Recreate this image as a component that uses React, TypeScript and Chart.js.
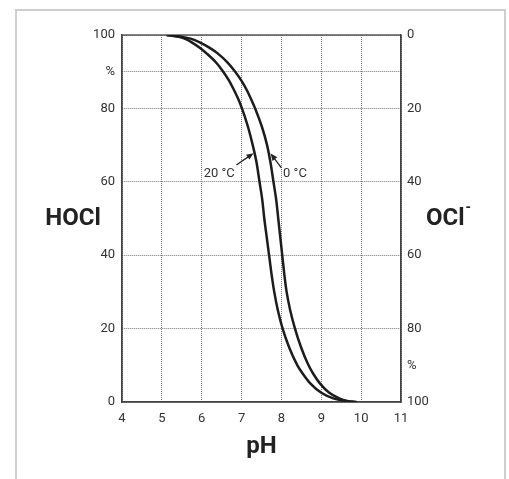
import React, { useEffect, useRef } from 'react';
import { Chart, registerables } from 'chart.js';

Chart.register(...registerables);

// pH vs HOCl share (%) at 20 °C
const ph20 = [5.12, 5.42, 5.57, 5.75, 5.95, 6.12, 6.36, 6.54, 6.69, 6.81, 6.92, 7.01, 7.16, 7.28, 7.38, 7.45, 7.52, 7.57, 7.63, 7.69, 7.75, 7.82, 7.91, 8.03, 8.19, 8.4, 8.55, 8.73, 9.0, 9.3, 9.6, 9.88];
const hocl20 = [100, 99.5, 99, 98, 96.5, 95, 92.5, 90, 87.5, 85, 82.5, 80, 75, 70, 65, 60, 55, 50, 45, 40, 35, 30, 25, 20, 15, 10, 7.5, 5, 2.5, 1, 0.3, 0];
// pH vs HOCl share (%) at 0 °C
const ph0 = [5.12, 5.5, 5.72, 5.95, 6.2, 6.4, 6.65, 6.84, 7.0, 7.13, 7.24, 7.34, 7.51, 7.64, 7.73, 7.8, 7.87, 7.92, 7.97, 8.02, 8.07, 8.13, 8.22, 8.34, 8.49, 8.68, 8.81, 8.97, 9.2, 9.45, 9.65, 9.88];
const hocl0 = [100, 99.5, 99, 98, 96.5, 95, 92.5, 90, 87.5, 85, 82.5, 80, 75, 70, 65, 60, 55, 50, 45, 40, 35, 30, 25, 20, 15, 10, 7.5, 5, 2.5, 1, 0.3, 0];

const xMin = 4;
const xMax = 11;
const leftTickValues = [0, 20, 40, 60, 80, 90, 100];
const leftTickText = ['0', '20', '40', '60', '80', '%', '100'];
const rightTickValues = [0, 20, 40, 60, 80, 90, 100];
const rightTickText = ['0', '20', '40', '60', '80', '%', '100'];

// annotations (data units)
const annText = ['20 °C', '0 °C'];
const annAlign = ['right', 'left'];
const annLabelX = [6.83, 8.04];
const annLabelY = [62.3, 62.3];
const annTailX = [6.87, 8.0];
const annTailY = [64.6, 63.8];
const annHeadX = [7.3, 7.73];
const annHeadY = [67.8, 67.7];

const FONT = 'Roboto, "DejaVu Sans", sans-serif';

const decor = {
  id: 'decor',
  beforeDatasetsDraw(chart: any) {
    const { ctx, chartArea: a } = chart;
    ctx.save();
    ctx.strokeStyle = '#444';
    ctx.lineWidth = 1.3;
    ctx.setLineDash([]);
    ctx.strokeRect(a.left, a.top, a.right - a.left, a.bottom - a.top);
    ctx.restore();
  },
  afterDraw(chart: any) {
    const { ctx, chartArea: a, scales } = chart;
    const xs = scales.x;
    const ys = scales.y;
    ctx.save();
    // titles
    ctx.fillStyle = '#222';
    ctx.font = `bold 24px ${FONT}`;
    ctx.textBaseline = 'middle';
    ctx.textAlign = 'center';
    ctx.fillText('pH', (a.left + a.right) / 2, a.bottom + 45);
    const midY = (a.top + a.bottom) / 2;
    ctx.fillText('HOCl', a.left - 49, midY);
    ctx.textAlign = 'left';
    ctx.fillText('OCl', a.right + 25, midY);
    const w = ctx.measureText('OCl').width;
    ctx.font = `bold 14px ${FONT}`;
    ctx.fillText('-', a.right + 26 + w, midY - 10);

    // annotations
    ctx.font = `13px ${FONT}`;
    ctx.fillStyle = '#333';
    ctx.strokeStyle = '#222';
    ctx.lineWidth = 1.3;
    for (let i = 0; i < annText.length; i++) {
      ctx.textAlign = annAlign[i] as CanvasTextAlign;
      ctx.textBaseline = 'middle';
      ctx.fillText(annText[i], xs.getPixelForValue(annLabelX[i]), ys.getPixelForValue(annLabelY[i]));
      const x1 = xs.getPixelForValue(annTailX[i]);
      const y1 = ys.getPixelForValue(annTailY[i]);
      const x2 = xs.getPixelForValue(annHeadX[i]);
      const y2 = ys.getPixelForValue(annHeadY[i]);
      const ang = Math.atan2(y2 - y1, x2 - x1);
      const hl = 7;
      const hw = 3;
      ctx.beginPath();
      ctx.moveTo(x1, y1);
      ctx.lineTo(x2 - Math.cos(ang) * hl * 0.8, y2 - Math.sin(ang) * hl * 0.8);
      ctx.stroke();
      ctx.beginPath();
      ctx.moveTo(x2, y2);
      ctx.lineTo(x2 - Math.cos(ang) * hl - Math.sin(ang) * hw, y2 - Math.sin(ang) * hl + Math.cos(ang) * hw);
      ctx.lineTo(x2 - Math.cos(ang) * hl + Math.sin(ang) * hw, y2 - Math.sin(ang) * hl - Math.cos(ang) * hw);
      ctx.closePath();
      ctx.fillStyle = '#222';
      ctx.fill();
      ctx.fillStyle = '#333';
    }
    ctx.restore();
  },
};

export default function App() {
  const ref = useRef<HTMLCanvasElement>(null);
  useEffect(() => {
    if (!ref.current) return;
    const chart = new Chart(ref.current, {
      type: 'line',
      data: {
        datasets: [
          {
            label: '20 °C',
            data: ph20.map((x, i) => ({ x, y: hocl20[i] })),
            borderColor: '#1c1c1c',
            borderWidth: 2.5,
            pointRadius: 0,
            cubicInterpolationMode: 'monotone',
            fill: false,
            yAxisID: 'y',
          },
          {
            label: '0 °C',
            data: ph0.map((x, i) => ({ x, y: hocl0[i] })),
            borderColor: '#1c1c1c',
            borderWidth: 2.5,
            pointRadius: 0,
            cubicInterpolationMode: 'monotone',
            fill: false,
            yAxisID: 'y',
          },
        ],
      },
      options: {
        animation: false,
        responsive: true,
        maintainAspectRatio: false,
        layout: { padding: { top: 35, left: 0, right: 0, bottom: 0 } },
        plugins: { legend: { display: false }, tooltip: { enabled: false } },
        scales: {
          x: {
            type: 'linear',
            min: xMin,
            max: xMax,
            ticks: {
              stepSize: 1,
              padding: 9,
              color: '#333',
              font: { family: FONT, size: 13 },
            },
            grid: { color: '#777', lineWidth: 1, drawTicks: false },
            border: { display: true, color: '#444', width: 1.3, dash: [1, 1] },
            afterFit: (s: any) => { s.height = 77; },
          },
          y: {
            type: 'linear',
            position: 'left',
            min: 0,
            max: 100,
            afterBuildTicks: (s: any) => { s.ticks = leftTickValues.map((v) => ({ value: v })); },
            ticks: {
              padding: 7,
              color: '#333',
              font: { family: FONT, size: 13 },
              callback: (v: any) => {
                const i = leftTickValues.indexOf(Number(v));
                return i >= 0 ? leftTickText[i] : '';
              },
            },
            grid: { color: '#777', lineWidth: 1, drawTicks: false },
            border: { display: true, color: '#444', width: 1.3, dash: [1, 1] },
            afterFit: (s: any) => { s.width = 122; },
          },
          y2: {
            type: 'linear',
            position: 'right',
            reverse: true,
            min: 0,
            max: 100,
            afterBuildTicks: (s: any) => { s.ticks = rightTickValues.map((v) => ({ value: v })); },
            ticks: {
              padding: 6,
              color: '#333',
              font: { family: FONT, size: 13 },
              callback: (v: any) => {
                const i = rightTickValues.indexOf(Number(v));
                return i >= 0 ? rightTickText[i] : '';
              },
            },
            grid: { drawOnChartArea: false, drawTicks: false },
            border: { display: true, color: '#444', width: 1.3 },
            afterFit: (s: any) => { s.width = 108; },
          },
        },
      } as any,
      plugins: [decor],
    });
    return () => chart.destroy();
  }, []);

  return (
    <div style={{ position: 'absolute', left: 0, top: 0, width: 509, height: 479, overflow: 'hidden', background: '#fff' }}>
      <div
        style={{
          position: 'absolute',
          left: 15,
          top: 9,
          width: 491,
          height: 520,
          boxSizing: 'border-box',
          borderLeft: '2px solid #cfcfcf',
          borderRight: '2px solid #cfcfcf',
          borderTop: '2px solid #cfcfcf',
        }}
      />
      <div style={{ position: 'absolute', left: 0, top: 0, width: 509, height: 479 }}>
        <canvas ref={ref} />
      </div>
    </div>
  );
}
